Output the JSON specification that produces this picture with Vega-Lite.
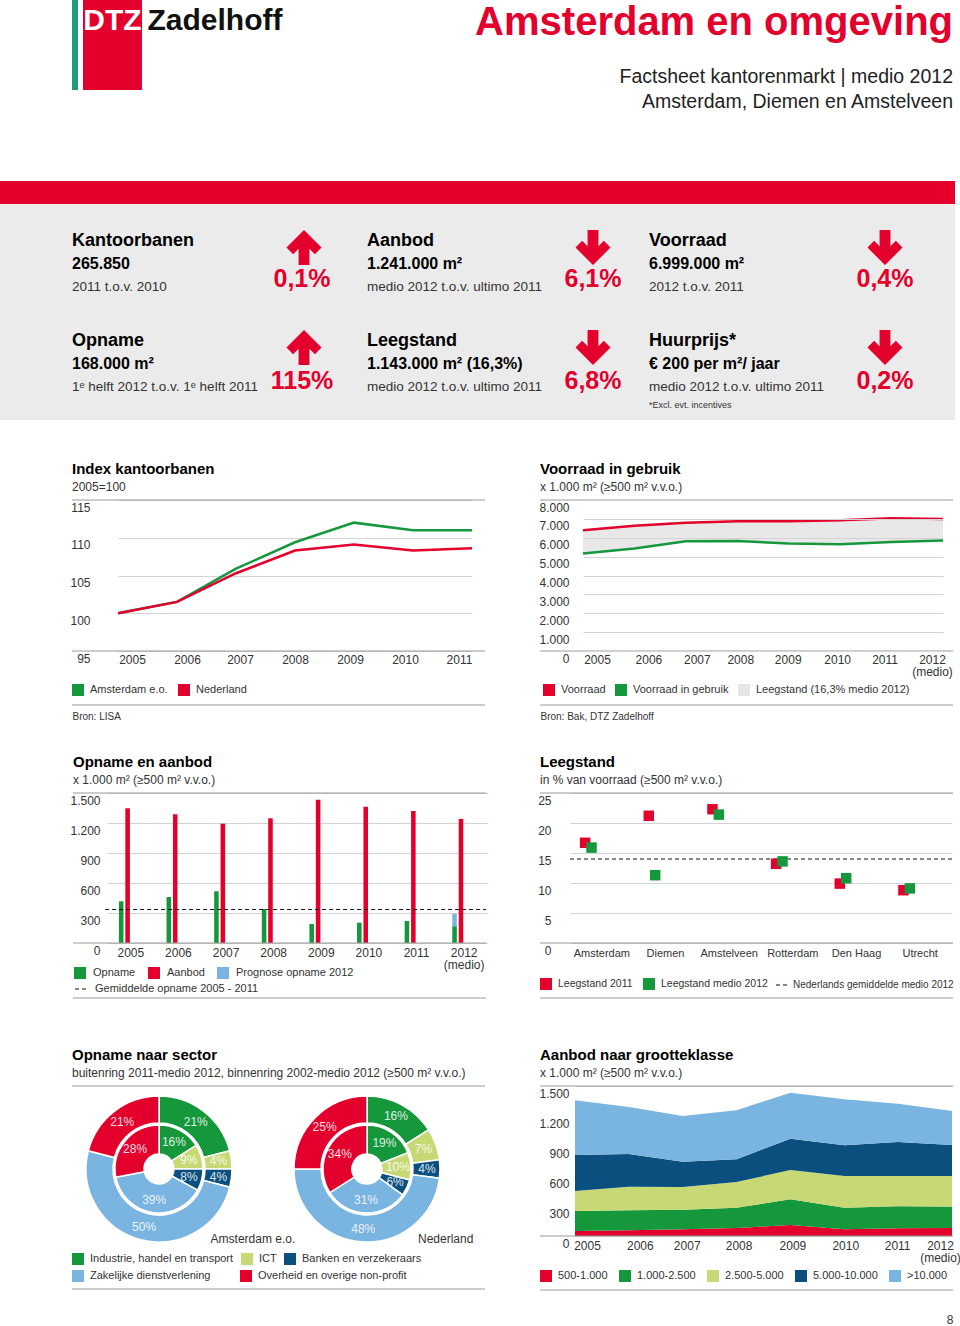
{
"$schema": "https://vega.github.io/schema/vega-lite/v6.json",
"padding": 0,
"background": "white",
"spacing": 0,
"resolve": {"scale": {"color": "independent", "fill": "independent", "strokeDash": "independent", "shape": "independent", "theta": "independent"}},
"config": {
  "font": "Liberation Sans",
  "view": {"stroke": null},
  "axis": {"domain": false, "ticks": false, "labelFont": "Liberation Sans", "labelFontSize": 12, "labelColor": "#333", "gridColor": "#d3d3d3", "gridWidth": 1},
  "legend": {"labelFont": "Liberation Sans", "labelFontSize": 11, "labelColor": "#333", "symbolStrokeWidth": 0, "symbolOpacity": 1, "labelLimit": 300},
  "title": {"anchor": "start", "frame": "group", "font": "Liberation Sans", "fontSize": 15, "fontWeight": "bold", "color": "#000", "subtitleFont": "Liberation Sans", "subtitleFontSize": 12, "subtitleColor": "#333", "subtitlePadding": 5, "offset": 7}
},
"datasets": {
  "kpi": [
    {"kolom": 0, "rij": 0, "titel": "Kantoorbanen", "waarde": "265.850", "omschrijving": "2011 t.o.v. 2010", "verandering": "0,1%", "richting": "op", "noot": ""},
    {"kolom": 1, "rij": 0, "titel": "Aanbod", "waarde": "1.241.000 m²", "omschrijving": "medio 2012 t.o.v. ultimo 2011", "verandering": "6,1%", "richting": "neer", "noot": ""},
    {"kolom": 2, "rij": 0, "titel": "Voorraad", "waarde": "6.999.000 m²", "omschrijving": "2012 t.o.v. 2011", "verandering": "0,4%", "richting": "neer", "noot": ""},
    {"kolom": 0, "rij": 1, "titel": "Opname", "waarde": "168.000 m²", "omschrijving": "1ᵉ helft 2012 t.o.v. 1ᵉ helft 2011", "verandering": "115%", "richting": "op", "noot": ""},
    {"kolom": 1, "rij": 1, "titel": "Leegstand", "waarde": "1.143.000 m² (16,3%)", "omschrijving": "medio 2012 t.o.v. ultimo 2011", "verandering": "6,8%", "richting": "neer", "noot": ""},
    {"kolom": 2, "rij": 1, "titel": "Huurprijs*", "waarde": "€ 200 per m²/ jaar", "omschrijving": "medio 2012 t.o.v. ultimo 2011", "verandering": "0,2%", "richting": "neer", "noot": "*Excl. evt. incentives"}
  ],
  "idx": [
    {"jaar": "2005", "reeks": "Amsterdam e.o.", "index": 100},
    {"jaar": "2006", "reeks": "Amsterdam e.o.", "index": 101.5},
    {"jaar": "2007", "reeks": "Amsterdam e.o.", "index": 105.9},
    {"jaar": "2008", "reeks": "Amsterdam e.o.", "index": 109.4},
    {"jaar": "2009", "reeks": "Amsterdam e.o.", "index": 112.0},
    {"jaar": "2010", "reeks": "Amsterdam e.o.", "index": 111.0},
    {"jaar": "2011", "reeks": "Amsterdam e.o.", "index": 111.0},
    {"jaar": "2005", "reeks": "Nederland", "index": 100},
    {"jaar": "2006", "reeks": "Nederland", "index": 101.5},
    {"jaar": "2007", "reeks": "Nederland", "index": 105.3},
    {"jaar": "2008", "reeks": "Nederland", "index": 108.3},
    {"jaar": "2009", "reeks": "Nederland", "index": 109.1},
    {"jaar": "2010", "reeks": "Nederland", "index": 108.3},
    {"jaar": "2011", "reeks": "Nederland", "index": 108.6}
  ],
  "voorraad": [
    {"jaar": "2005", "Voorraad": 6400, "Voorraad in gebruik": 5170},
    {"jaar": "2006", "Voorraad": 6630, "Voorraad in gebruik": 5430},
    {"jaar": "2007", "Voorraad": 6790, "Voorraad in gebruik": 5820},
    {"jaar": "2008", "Voorraad": 6880, "Voorraad in gebruik": 5830},
    {"jaar": "2009", "Voorraad": 6880, "Voorraad in gebruik": 5700},
    {"jaar": "2010", "Voorraad": 6930, "Voorraad in gebruik": 5650},
    {"jaar": "2011", "Voorraad": 7027, "Voorraad in gebruik": 5780},
    {"jaar": "2012", "Voorraad": 6999, "Voorraad in gebruik": 5856}
  ],
  "voorraadLegenda": [
    {"reeks": "Voorraad"},
    {"reeks": "Voorraad in gebruik"},
    {"reeks": "Leegstand (16,3% medio 2012)"}
  ],
  "opnameAanbod": [
    {"jaar": "2005", "type": "Opname", "groep": "Opname", "m2": 417},
    {"jaar": "2005", "type": "Aanbod", "groep": "Aanbod", "m2": 1347},
    {"jaar": "2006", "type": "Opname", "groep": "Opname", "m2": 460},
    {"jaar": "2006", "type": "Aanbod", "groep": "Aanbod", "m2": 1287},
    {"jaar": "2007", "type": "Opname", "groep": "Opname", "m2": 517},
    {"jaar": "2007", "type": "Aanbod", "groep": "Aanbod", "m2": 1193},
    {"jaar": "2008", "type": "Opname", "groep": "Opname", "m2": 340},
    {"jaar": "2008", "type": "Aanbod", "groep": "Aanbod", "m2": 1247},
    {"jaar": "2009", "type": "Opname", "groep": "Opname", "m2": 190},
    {"jaar": "2009", "type": "Aanbod", "groep": "Aanbod", "m2": 1433},
    {"jaar": "2010", "type": "Opname", "groep": "Opname", "m2": 203},
    {"jaar": "2010", "type": "Aanbod", "groep": "Aanbod", "m2": 1363},
    {"jaar": "2011", "type": "Opname", "groep": "Opname", "m2": 220},
    {"jaar": "2011", "type": "Aanbod", "groep": "Aanbod", "m2": 1320},
    {"jaar": "2012", "type": "Opname", "groep": "Opname", "m2": 168},
    {"jaar": "2012", "type": "Prognose opname 2012", "groep": "Opname", "m2": 125},
    {"jaar": "2012", "type": "Aanbod", "groep": "Aanbod", "m2": 1241}
  ],
  "leegstand": [
    {"stad": "Amsterdam", "reeks": "Leegstand 2011", "pct": 16.7},
    {"stad": "Amsterdam", "reeks": "Leegstand medio 2012", "pct": 15.9},
    {"stad": "Diemen", "reeks": "Leegstand 2011", "pct": 21.2},
    {"stad": "Diemen", "reeks": "Leegstand medio 2012", "pct": 11.3},
    {"stad": "Amstelveen", "reeks": "Leegstand 2011", "pct": 22.3},
    {"stad": "Amstelveen", "reeks": "Leegstand medio 2012", "pct": 21.4},
    {"stad": "Rotterdam", "reeks": "Leegstand 2011", "pct": 13.2},
    {"stad": "Rotterdam", "reeks": "Leegstand medio 2012", "pct": 13.6},
    {"stad": "Den Haag", "reeks": "Leegstand 2011", "pct": 9.9},
    {"stad": "Den Haag", "reeks": "Leegstand medio 2012", "pct": 10.8},
    {"stad": "Utrecht", "reeks": "Leegstand 2011", "pct": 8.8},
    {"stad": "Utrecht", "reeks": "Leegstand medio 2012", "pct": 9.1}
  ],
  "sector": [
    {"regio": "Amsterdam e.o.", "ring": "buiten", "sector": "Industrie, handel en transport", "aandeel": 0.21, "volgorde": 1},
    {"regio": "Amsterdam e.o.", "ring": "buiten", "sector": "ICT", "aandeel": 0.04, "volgorde": 2},
    {"regio": "Amsterdam e.o.", "ring": "buiten", "sector": "Banken en verzekeraars", "aandeel": 0.04, "volgorde": 3},
    {"regio": "Amsterdam e.o.", "ring": "buiten", "sector": "Zakelijke dienstverlening", "aandeel": 0.50, "volgorde": 4},
    {"regio": "Amsterdam e.o.", "ring": "buiten", "sector": "Overheid en overige non-profit", "aandeel": 0.21, "volgorde": 5},
    {"regio": "Amsterdam e.o.", "ring": "binnen", "sector": "Industrie, handel en transport", "aandeel": 0.16, "volgorde": 1},
    {"regio": "Amsterdam e.o.", "ring": "binnen", "sector": "ICT", "aandeel": 0.09, "volgorde": 2},
    {"regio": "Amsterdam e.o.", "ring": "binnen", "sector": "Banken en verzekeraars", "aandeel": 0.08, "volgorde": 3},
    {"regio": "Amsterdam e.o.", "ring": "binnen", "sector": "Zakelijke dienstverlening", "aandeel": 0.39, "volgorde": 4},
    {"regio": "Amsterdam e.o.", "ring": "binnen", "sector": "Overheid en overige non-profit", "aandeel": 0.28, "volgorde": 5},
    {"regio": "Nederland", "ring": "buiten", "sector": "Industrie, handel en transport", "aandeel": 0.16, "volgorde": 1},
    {"regio": "Nederland", "ring": "buiten", "sector": "ICT", "aandeel": 0.07, "volgorde": 2},
    {"regio": "Nederland", "ring": "buiten", "sector": "Banken en verzekeraars", "aandeel": 0.04, "volgorde": 3},
    {"regio": "Nederland", "ring": "buiten", "sector": "Zakelijke dienstverlening", "aandeel": 0.48, "volgorde": 4},
    {"regio": "Nederland", "ring": "buiten", "sector": "Overheid en overige non-profit", "aandeel": 0.25, "volgorde": 5},
    {"regio": "Nederland", "ring": "binnen", "sector": "Industrie, handel en transport", "aandeel": 0.19, "volgorde": 1},
    {"regio": "Nederland", "ring": "binnen", "sector": "ICT", "aandeel": 0.10, "volgorde": 2},
    {"regio": "Nederland", "ring": "binnen", "sector": "Banken en verzekeraars", "aandeel": 0.06, "volgorde": 3},
    {"regio": "Nederland", "ring": "binnen", "sector": "Zakelijke dienstverlening", "aandeel": 0.31, "volgorde": 4},
    {"regio": "Nederland", "ring": "binnen", "sector": "Overheid en overige non-profit", "aandeel": 0.34, "volgorde": 5}
  ],
  "grootte": [
    {"jaar": "2005", "klasse": "500-1.000", "volgorde": 1, "m2": 50},
    {"jaar": "2005", "klasse": "1.000-2.500", "volgorde": 2, "m2": 200},
    {"jaar": "2005", "klasse": "2.500-5.000", "volgorde": 3, "m2": 200},
    {"jaar": "2005", "klasse": "5.000-10.000", "volgorde": 4, "m2": 360},
    {"jaar": "2005", "klasse": ">10.000", "volgorde": 5, "m2": 547},
    {"jaar": "2006", "klasse": "500-1.000", "volgorde": 1, "m2": 57},
    {"jaar": "2006", "klasse": "1.000-2.500", "volgorde": 2, "m2": 200},
    {"jaar": "2006", "klasse": "2.500-5.000", "volgorde": 3, "m2": 236},
    {"jaar": "2006", "klasse": "5.000-10.000", "volgorde": 4, "m2": 327},
    {"jaar": "2006", "klasse": ">10.000", "volgorde": 5, "m2": 470},
    {"jaar": "2007", "klasse": "500-1.000", "volgorde": 1, "m2": 67},
    {"jaar": "2007", "klasse": "1.000-2.500", "volgorde": 2, "m2": 196},
    {"jaar": "2007", "klasse": "2.500-5.000", "volgorde": 3, "m2": 227},
    {"jaar": "2007", "klasse": "5.000-10.000", "volgorde": 4, "m2": 253},
    {"jaar": "2007", "klasse": ">10.000", "volgorde": 5, "m2": 457},
    {"jaar": "2008", "klasse": "500-1.000", "volgorde": 1, "m2": 80},
    {"jaar": "2008", "klasse": "1.000-2.500", "volgorde": 2, "m2": 203},
    {"jaar": "2008", "klasse": "2.500-5.000", "volgorde": 3, "m2": 257},
    {"jaar": "2008", "klasse": "5.000-10.000", "volgorde": 4, "m2": 227},
    {"jaar": "2008", "klasse": ">10.000", "volgorde": 5, "m2": 490},
    {"jaar": "2009", "klasse": "500-1.000", "volgorde": 1, "m2": 110},
    {"jaar": "2009", "klasse": "1.000-2.500", "volgorde": 2, "m2": 257},
    {"jaar": "2009", "klasse": "2.500-5.000", "volgorde": 3, "m2": 293},
    {"jaar": "2009", "klasse": "5.000-10.000", "volgorde": 4, "m2": 313},
    {"jaar": "2009", "klasse": ">10.000", "volgorde": 5, "m2": 460},
    {"jaar": "2010", "klasse": "500-1.000", "volgorde": 1, "m2": 67},
    {"jaar": "2010", "klasse": "1.000-2.500", "volgorde": 2, "m2": 216},
    {"jaar": "2010", "klasse": "2.500-5.000", "volgorde": 3, "m2": 317},
    {"jaar": "2010", "klasse": "5.000-10.000", "volgorde": 4, "m2": 307},
    {"jaar": "2010", "klasse": ">10.000", "volgorde": 5, "m2": 460},
    {"jaar": "2011", "klasse": "500-1.000", "volgorde": 1, "m2": 77},
    {"jaar": "2011", "klasse": "1.000-2.500", "volgorde": 2, "m2": 220},
    {"jaar": "2011", "klasse": "2.500-5.000", "volgorde": 3, "m2": 303},
    {"jaar": "2011", "klasse": "5.000-10.000", "volgorde": 4, "m2": 340},
    {"jaar": "2011", "klasse": ">10.000", "volgorde": 5, "m2": 383},
    {"jaar": "2012", "klasse": "500-1.000", "volgorde": 1, "m2": 80},
    {"jaar": "2012", "klasse": "1.000-2.500", "volgorde": 2, "m2": 213},
    {"jaar": "2012", "klasse": "2.500-5.000", "volgorde": 3, "m2": 307},
    {"jaar": "2012", "klasse": "5.000-10.000", "volgorde": 4, "m2": 310},
    {"jaar": "2012", "klasse": ">10.000", "volgorde": 5, "m2": 340}
  ]
},
"vconcat": [
  {
    "bounds": "flush", "spacing": 0,
    "hconcat": [
      {"width": 72, "height": 181, "view": {"fill": "white"}, "data": {"values": [{}]}, "mark": {"type": "text"}, "encoding": {"text": {"value": ""}}},
      {"width": 6, "height": 90, "view": {"fill": "#1f9a7d"}, "data": {"values": [{}]}, "mark": {"type": "text"}, "encoding": {"text": {"value": ""}}},
      {"width": 5, "height": 90, "data": {"values": [{}]}, "mark": {"type": "text"}, "encoding": {"text": {"value": ""}}},
      {"width": 59, "height": 90, "view": {"fill": "#e3002c"}, "data": {"values": [{"t": "DTZ"}]}, "mark": {"type": "text", "color": "white", "fontSize": 30, "fontWeight": "bold", "baseline": "middle", "dy": -24}, "encoding": {"text": {"field": "t"}}},
      {"width": 5, "height": 90, "data": {"values": [{}]}, "mark": {"type": "text"}, "encoding": {"text": {"value": ""}}},
      {"width": 136, "height": 90, "data": {"values": [{"t": "Zadelhoff"}]}, "mark": {"type": "text", "color": "#111", "fontSize": 30, "fontWeight": "bold", "baseline": "middle", "dy": -24}, "encoding": {"text": {"field": "t"}}},
      {
        "width": 670, "height": 181,
        "view": {"fill": "white"},
        "data": {"values": [
          {"regel": 0, "tekst": "Amsterdam en omgeving"},
          {"regel": 1, "tekst": "Factsheet kantorenmarkt | medio 2012"},
          {"regel": 2, "tekst": "Amsterdam, Diemen en Amstelveen"}
        ]},
        "encoding": {
          "x": {"value": "width"},
          "y": {"field": "regel", "type": "quantitative", "scale": {"domain": [0, 1, 2], "range": [35, 77, 102]}, "axis": null},
          "text": {"field": "tekst"}
        },
        "layer": [
          {"transform": [{"filter": "datum.regel == 0"}], "mark": {"type": "text", "align": "right", "baseline": "alphabetic", "fontSize": 40, "fontWeight": "bold", "color": "#e3002c"}},
          {"transform": [{"filter": "datum.regel > 0"}], "mark": {"type": "text", "align": "right", "baseline": "middle", "fontSize": 19.5, "color": "#222"}}
        ]
      }
    ]
  },
  {"width": 955, "height": 23, "view": {"fill": "#e3002c"}, "data": {"values": [{}]}, "mark": {"type": "text"}, "encoding": {"text": {"value": ""}}},
  {
    "width": 955, "height": 216,
    "view": {"fill": "#ebebeb"},
    "data": {"name": "kpi"},
    "resolve": {"scale": {"x": "independent", "y": "independent"}},
    "layer": [
      {"mark": {"type": "text", "align": "left", "baseline": "middle", "fontSize": 18, "fontWeight": "bold", "color": "#000"},
       "encoding": {"x": {"field": "kolom", "type": "quantitative", "scale": {"domain": [0, 1, 2], "range": [72, 367, 649]}, "axis": null}, "y": {"field": "rij", "type": "quantitative", "scale": {"domain": [0, 1], "range": [37, 137]}, "axis": null}, "text": {"field": "titel"}}},
      {"mark": {"type": "text", "align": "left", "baseline": "middle", "fontSize": 16, "fontWeight": "bold", "color": "#000", "dy": 23},
       "encoding": {"x": {"field": "kolom", "type": "quantitative", "scale": {"domain": [0, 1, 2], "range": [72, 367, 649]}, "axis": null}, "y": {"field": "rij", "type": "quantitative", "scale": {"domain": [0, 1], "range": [37, 137]}, "axis": null}, "text": {"field": "waarde"}}},
      {"mark": {"type": "text", "align": "left", "baseline": "middle", "fontSize": 13.5, "color": "#333", "dy": 46},
       "encoding": {"x": {"field": "kolom", "type": "quantitative", "scale": {"domain": [0, 1, 2], "range": [72, 367, 649]}, "axis": null}, "y": {"field": "rij", "type": "quantitative", "scale": {"domain": [0, 1], "range": [37, 137]}, "axis": null}, "text": {"field": "omschrijving"}}},
      {"mark": {"type": "text", "align": "left", "baseline": "middle", "fontSize": 9, "color": "#333", "dy": 64},
       "encoding": {"x": {"field": "kolom", "type": "quantitative", "scale": {"domain": [0, 1, 2], "range": [72, 367, 649]}, "axis": null}, "y": {"field": "rij", "type": "quantitative", "scale": {"domain": [0, 1], "range": [37, 137]}, "axis": null}, "text": {"field": "noot"}}},
      {"mark": {"type": "point", "filled": true, "size": 1225, "color": "#e3002c", "opacity": 1, "strokeWidth": 0},
       "encoding": {"x": {"field": "kolom", "type": "quantitative", "scale": {"domain": [0, 1, 2], "range": [304, 593, 885]}, "axis": null}, "y": {"field": "rij", "type": "quantitative", "scale": {"domain": [0, 1], "range": [43.5, 143.5]}, "axis": null},
         "shape": {"field": "richting", "type": "nominal", "scale": {"domain": ["op", "neer"], "range": ["M0,-1L1,0L0.62,0.38L0.31,0.07L0.31,1L-0.31,1L-0.31,0.07L-0.62,0.38L-1,0Z", "M0,1L1,0L0.62,-0.38L0.31,-0.07L0.31,-1L-0.31,-1L-0.31,-0.07L-0.62,-0.38L-1,0Z"]}, "legend": null}}},
      {"mark": {"type": "text", "align": "center", "baseline": "middle", "fontSize": 25, "fontWeight": "bold", "color": "#e3002c"},
       "encoding": {"x": {"field": "kolom", "type": "quantitative", "scale": {"domain": [0, 1, 2], "range": [302, 593, 885]}, "axis": null}, "y": {"field": "rij", "type": "quantitative", "scale": {"domain": [0, 1], "range": [75, 177]}, "axis": null}, "text": {"field": "verandering"}}}
    ]
  },
  {"width": 10, "height": 41, "view": {"fill": "white"}, "data": {"values": [{}]}, "mark": {"type": "text"}, "encoding": {"text": {"value": ""}}},
  {
    "bounds": "flush", "spacing": 0,
    "resolve": {"scale": {"color": "independent", "strokeDash": "independent"}},
    "hconcat": [
      {"width": 72, "height": 254, "view": {"fill": "white"}, "data": {"values": [{}]}, "mark": {"type": "text"}, "encoding": {"text": {"value": ""}}},
      {
        "width": 413, "height": 151,
        "title": {"text": "Index kantoorbanen", "subtitle": "2005=100"},
        "layer": [
          {"data": {"values": [{}]}, "mark": {"type": "rule", "color": "#9a9a9a"}, "encoding": {"y": {"datum": 115, "type": "quantitative", "scale": {"domain": [95, 115], "nice": false, "zero": false}, "axis": {"values": [95, 100, 105, 110, 115], "grid": true, "labelAlign": "right", "labelPadding": -18, "labelBaseline": "top", "labelOffset": 2, "title": null}}}},
          {"data": {"values": [{}]}, "mark": {"type": "rule", "color": "#9a9a9a"}, "encoding": {"y": {"datum": 95, "type": "quantitative", "scale": {"domain": [95, 115], "nice": false, "zero": false}, "axis": {"values": [95, 100, 105, 110, 115], "grid": true, "labelAlign": "right", "labelPadding": -18, "labelBaseline": "top", "labelOffset": 2, "title": null}}}},
          {"data": {"values": [{}]}, "mark": {"type": "rule", "color": "#9a9a9a"}, "encoding": {"y": {"datum": 87.85, "type": "quantitative", "scale": {"domain": [95, 115], "nice": false, "zero": false}, "axis": {"values": [95, 100, 105, 110, 115], "grid": true, "labelAlign": "right", "labelPadding": -18, "labelBaseline": "top", "labelOffset": 2, "title": null}}}},
          {"data": {"name": "idx"}, "transform": [{"filter": "datum.reeks == 'Amsterdam e.o.'"}], "mark": {"type": "line", "strokeWidth": 2.5, "color": "#15973c"},
           "encoding": {
             "x": {"field": "jaar", "type": "ordinal", "scale": {"type": "point", "range": [46, 400], "padding": 0},
                   "axis": {"labelAngle": 0, "labelPadding": 3, "labelBaseline": "top",
                            "labelOffset": {"condition": [{"test": "datum.value == '2005'", "value": 14}, {"test": "datum.value == '2006'", "value": 10}, {"test": "datum.value == '2007'", "value": 4}, {"test": "datum.value == '2009'", "value": -4}, {"test": "datum.value == '2010'", "value": -8}, {"test": "datum.value == '2011'", "value": -13}], "value": 0},
                            "title": "Bron: LISA", "titleX": 0, "titleY": 65, "titleAlign": "left", "titleAnchor": "start", "titleBaseline": "middle", "titleFontSize": 10, "titleFontWeight": "normal", "titleColor": "#333"}},
             "y": {"field": "index", "type": "quantitative", "scale": {"domain": [95, 115], "nice": false, "zero": false},
                   "axis": {"values": [95, 100, 105, 110, 115], "grid": true, "labelAlign": "right", "labelPadding": -18, "labelBaseline": "top", "labelOffset": 2, "title": null}}
           }},
          {"data": {"name": "idx"}, "transform": [{"filter": "datum.reeks == 'Nederland'"}], "mark": {"type": "line", "strokeWidth": 2.5, "color": "#e3002c"},
           "encoding": {
             "x": {"field": "jaar", "type": "ordinal", "scale": {"type": "point", "range": [46, 400], "padding": 0},
                   "axis": {"labelAngle": 0, "labelPadding": 3, "labelBaseline": "top",
                            "labelOffset": {"condition": [{"test": "datum.value == '2005'", "value": 14}, {"test": "datum.value == '2006'", "value": 10}, {"test": "datum.value == '2007'", "value": 4}, {"test": "datum.value == '2009'", "value": -4}, {"test": "datum.value == '2010'", "value": -8}, {"test": "datum.value == '2011'", "value": -13}], "value": 0},
                            "title": "Bron: LISA", "titleX": 0, "titleY": 65, "titleAlign": "left", "titleAnchor": "start", "titleBaseline": "middle", "titleFontSize": 10, "titleFontWeight": "normal", "titleColor": "#333"}},
             "y": {"field": "index", "type": "quantitative", "scale": {"domain": [95, 115], "nice": false, "zero": false},
                   "axis": {"values": [95, 100, 105, 110, 115], "grid": true, "labelAlign": "right", "labelPadding": -18, "labelBaseline": "top", "labelOffset": 2, "title": null}}
           }},
          {"data": {"name": "idx"}, "mark": {"type": "square", "opacity": 0},
           "encoding": {
             "x": {"field": "jaar", "type": "ordinal", "scale": {"type": "point", "range": [46, 400], "padding": 0},
                   "axis": {"labelAngle": 0, "labelPadding": 3, "labelBaseline": "top",
                            "labelOffset": {"condition": [{"test": "datum.value == '2005'", "value": 14}, {"test": "datum.value == '2006'", "value": 10}, {"test": "datum.value == '2007'", "value": 4}, {"test": "datum.value == '2009'", "value": -4}, {"test": "datum.value == '2010'", "value": -8}, {"test": "datum.value == '2011'", "value": -13}], "value": 0},
                            "title": "Bron: LISA", "titleX": 0, "titleY": 65, "titleAlign": "left", "titleAnchor": "start", "titleBaseline": "middle", "titleFontSize": 10, "titleFontWeight": "normal", "titleColor": "#333"}},
             "y": {"field": "index", "type": "quantitative", "scale": {"domain": [95, 115], "nice": false, "zero": false},
                   "axis": {"values": [95, 100, 105, 110, 115], "grid": true, "labelAlign": "right", "labelPadding": -18, "labelBaseline": "top", "labelOffset": 2, "title": null}},
             "color": {"field": "reeks", "type": "nominal", "scale": {"domain": ["Amsterdam e.o.", "Nederland"], "range": ["#15973c", "#e3002c"]},
                       "legend": {"orient": "none", "legendX": 0, "legendY": 184, "direction": "horizontal", "title": null, "symbolType": "square", "symbolSize": 144, "symbolOpacity": 1, "labelOffset": 6, "columnPadding": 10}}
           }}
        ]
      },
      {"width": 55, "height": 151, "data": {"values": [{}]}, "mark": {"type": "text"}, "encoding": {"text": {"value": ""}}},
      {
        "width": 413, "height": 151,
        "title": {"text": "Voorraad in gebruik", "subtitle": "x 1.000 m² (≥500 m² v.v.o.)"},
        "layer": [
          {"data": {"name": "voorraad"}, "mark": {"type": "area", "color": "#e8e8e8", "opacity": 1},
           "encoding": {
             "x": {"field": "jaar", "type": "ordinal", "scale": {"type": "point", "range": [43, 403], "padding": 0},
                   "axis": {"labelAngle": 0, "labelPadding": 3, "labelBaseline": "top", "labelLineHeight": 12,
                            "labelExpr": "datum.value == '2012' ? ['2012', '(medio)'] : datum.label",
                            "labelOffset": {"condition": [{"test": "datum.value == '2005'", "value": 14}, {"test": "datum.value == '2006'", "value": 14}, {"test": "datum.value == '2007'", "value": 11}, {"test": "datum.value == '2008'", "value": 3}, {"test": "datum.value == '2009'", "value": -1}, {"test": "datum.value == '2010'", "value": -3}, {"test": "datum.value == '2011'", "value": -7}, {"test": "datum.value == '2012'", "value": -11}], "value": 0},
                            "title": "Bron: Bak, DTZ Zadelhoff", "titleX": 0, "titleY": 65, "titleAlign": "left", "titleAnchor": "start", "titleBaseline": "middle", "titleFontSize": 10, "titleFontWeight": "normal", "titleColor": "#333"}},
             "y": {"field": "Voorraad", "type": "quantitative", "scale": {"domain": [0, 8000], "nice": false},
                   "axis": {"values": [0, 1000, 2000, 3000, 4000, 5000, 6000, 7000, 8000], "grid": true, "zindex": 1, "labelAlign": "right", "labelPadding": -29, "labelBaseline": "top", "labelOffset": 2, "labelExpr": "replace(format(datum.value, ','), ',', '.')", "title": null}},
             "y2": {"field": "Voorraad in gebruik"}
           }},
          {"data": {"values": [{}]}, "mark": {"type": "rule", "color": "#9a9a9a"}, "encoding": {"y": {"datum": 8000, "type": "quantitative", "scale": {"domain": [0, 8000], "nice": false}, "axis": {"values": [0, 1000, 2000, 3000, 4000, 5000, 6000, 7000, 8000], "grid": true, "zindex": 1, "labelAlign": "right", "labelPadding": -29, "labelBaseline": "top", "labelOffset": 2, "labelExpr": "replace(format(datum.value, ','), ',', '.')", "title": null}}}},
          {"data": {"values": [{}]}, "mark": {"type": "rule", "color": "#9a9a9a"}, "encoding": {"y": {"datum": 0, "type": "quantitative", "scale": {"domain": [0, 8000], "nice": false}, "axis": {"values": [0, 1000, 2000, 3000, 4000, 5000, 6000, 7000, 8000], "grid": true, "zindex": 1, "labelAlign": "right", "labelPadding": -29, "labelBaseline": "top", "labelOffset": 2, "labelExpr": "replace(format(datum.value, ','), ',', '.')", "title": null}}}},
          {"data": {"values": [{}]}, "mark": {"type": "rule", "color": "#9a9a9a"}, "encoding": {"y": {"datum": -2861, "type": "quantitative", "scale": {"domain": [0, 8000], "nice": false}, "axis": {"values": [0, 1000, 2000, 3000, 4000, 5000, 6000, 7000, 8000], "grid": true, "zindex": 1, "labelAlign": "right", "labelPadding": -29, "labelBaseline": "top", "labelOffset": 2, "labelExpr": "replace(format(datum.value, ','), ',', '.')", "title": null}}}},
          {"data": {"name": "voorraad"}, "mark": {"type": "line", "strokeWidth": 2.5, "color": "#e3002c"},
           "encoding": {
             "x": {"field": "jaar", "type": "ordinal", "scale": {"type": "point", "range": [43, 403], "padding": 0},
                   "axis": {"labelAngle": 0, "labelPadding": 3, "labelBaseline": "top", "labelLineHeight": 12,
                            "labelExpr": "datum.value == '2012' ? ['2012', '(medio)'] : datum.label",
                            "labelOffset": {"condition": [{"test": "datum.value == '2005'", "value": 14}, {"test": "datum.value == '2006'", "value": 14}, {"test": "datum.value == '2007'", "value": 11}, {"test": "datum.value == '2008'", "value": 3}, {"test": "datum.value == '2009'", "value": -1}, {"test": "datum.value == '2010'", "value": -3}, {"test": "datum.value == '2011'", "value": -7}, {"test": "datum.value == '2012'", "value": -11}], "value": 0},
                            "title": "Bron: Bak, DTZ Zadelhoff", "titleX": 0, "titleY": 65, "titleAlign": "left", "titleAnchor": "start", "titleBaseline": "middle", "titleFontSize": 10, "titleFontWeight": "normal", "titleColor": "#333"}},
             "y": {"field": "Voorraad", "type": "quantitative", "scale": {"domain": [0, 8000], "nice": false},
                   "axis": {"values": [0, 1000, 2000, 3000, 4000, 5000, 6000, 7000, 8000], "grid": true, "zindex": 1, "labelAlign": "right", "labelPadding": -29, "labelBaseline": "top", "labelOffset": 2, "labelExpr": "replace(format(datum.value, ','), ',', '.')", "title": null}}
           }},
          {"data": {"name": "voorraad"}, "mark": {"type": "line", "strokeWidth": 2.5, "color": "#15973c"},
           "encoding": {
             "x": {"field": "jaar", "type": "ordinal", "scale": {"type": "point", "range": [43, 403], "padding": 0},
                   "axis": {"labelAngle": 0, "labelPadding": 3, "labelBaseline": "top", "labelLineHeight": 12,
                            "labelExpr": "datum.value == '2012' ? ['2012', '(medio)'] : datum.label",
                            "labelOffset": {"condition": [{"test": "datum.value == '2005'", "value": 14}, {"test": "datum.value == '2006'", "value": 14}, {"test": "datum.value == '2007'", "value": 11}, {"test": "datum.value == '2008'", "value": 3}, {"test": "datum.value == '2009'", "value": -1}, {"test": "datum.value == '2010'", "value": -3}, {"test": "datum.value == '2011'", "value": -7}, {"test": "datum.value == '2012'", "value": -11}], "value": 0},
                            "title": "Bron: Bak, DTZ Zadelhoff", "titleX": 0, "titleY": 65, "titleAlign": "left", "titleAnchor": "start", "titleBaseline": "middle", "titleFontSize": 10, "titleFontWeight": "normal", "titleColor": "#333"}},
             "y": {"field": "Voorraad in gebruik", "type": "quantitative", "scale": {"domain": [0, 8000], "nice": false},
                   "axis": {"values": [0, 1000, 2000, 3000, 4000, 5000, 6000, 7000, 8000], "grid": true, "zindex": 1, "labelAlign": "right", "labelPadding": -29, "labelBaseline": "top", "labelOffset": 2, "labelExpr": "replace(format(datum.value, ','), ',', '.')", "title": null}}
           }},
          {"data": {"name": "voorraadLegenda"}, "mark": {"type": "square", "opacity": 0},
           "encoding": {
             "color": {"field": "reeks", "type": "nominal", "scale": {"domain": ["Voorraad", "Voorraad in gebruik", "Leegstand (16,3% medio 2012)"], "range": ["#e3002c", "#15973c", "#e6e6e6"]},
                       "legend": {"orient": "none", "legendX": 3, "legendY": 184, "direction": "horizontal", "title": null, "symbolType": "square", "symbolSize": 144, "symbolOpacity": 1, "labelOffset": 6, "columnPadding": 9}}
           }}
        ]
      }
    ]
  },
  {
    "bounds": "flush", "spacing": 0,
    "resolve": {"scale": {"color": "independent", "strokeDash": "independent"}},
    "hconcat": [
      {"width": 73, "height": 254, "view": {"fill": "white"}, "data": {"values": [{}]}, "mark": {"type": "text"}, "encoding": {"text": {"value": ""}}},
      {
        "width": 413, "height": 150,
        "title": {"text": "Opname en aanbod", "subtitle": "x 1.000 m² (≥500 m² v.v.o.)"},
        "layer": [
          {"data": {"values": [{}]}, "mark": {"type": "rule", "color": "#9a9a9a"}, "encoding": {"y": {"datum": 1500, "type": "quantitative", "scale": {"domain": [0, 1500], "nice": false}, "axis": {"values": [0, 300, 600, 900, 1200, 1500], "grid": true, "labelAlign": "right", "labelPadding": -27, "labelBaseline": "top", "labelOffset": 2, "labelExpr": "replace(format(datum.value, ','), ',', '.')", "title": null}}}},
          {"data": {"values": [{}]}, "mark": {"type": "rule", "color": "#9a9a9a"}, "encoding": {"y": {"datum": -550, "type": "quantitative", "scale": {"domain": [0, 1500], "nice": false}, "axis": {"values": [0, 300, 600, 900, 1200, 1500], "grid": true, "labelAlign": "right", "labelPadding": -27, "labelBaseline": "top", "labelOffset": 2, "labelExpr": "replace(format(datum.value, ','), ',', '.')", "title": null}}}},
          {"data": {"name": "opnameAanbod"}, "mark": {"type": "bar"},
           "encoding": {
             "x": {"field": "jaar", "type": "ordinal", "scale": {"type": "band", "range": [34, 415], "paddingInner": 0.5, "paddingOuter": 0.25},
                   "axis": {"labelAngle": 0, "labelPadding": 4, "labelBaseline": "top", "labelLineHeight": 12, "labelExpr": "datum.value == '2012' ? ['2012', '(medio)'] : datum.label", "title": null}},
             "xOffset": {"field": "groep", "type": "nominal", "scale": {"domain": ["Opname", "Aanbod"], "paddingInner": 0.29, "paddingOuter": 0}},
             "y": {"field": "m2", "type": "quantitative", "stack": "zero", "scale": {"domain": [0, 1500], "nice": false},
                   "axis": {"values": [0, 300, 600, 900, 1200, 1500], "grid": true, "labelAlign": "right", "labelPadding": -27, "labelBaseline": "top", "labelOffset": 2, "labelExpr": "replace(format(datum.value, ','), ',', '.')", "title": null}},
             "color": {"field": "type", "type": "nominal", "scale": {"domain": ["Opname", "Aanbod", "Prognose opname 2012"], "range": ["#15973c", "#e3002c", "#7ab4e0"]},
                       "legend": {"orient": "none", "legendX": 1, "legendY": 174, "direction": "horizontal", "title": null, "symbolType": "square", "symbolSize": 144, "symbolOpacity": 1, "labelOffset": 7, "columnPadding": 12}},
             "order": {"field": "type", "type": "ordinal", "sort": "ascending"}
           }},
          {"data": {"values": [{}]}, "mark": {"type": "rule", "color": "#9a9a9a"}, "encoding": {"y": {"datum": 0, "type": "quantitative", "scale": {"domain": [0, 1500], "nice": false}, "axis": {"values": [0, 300, 600, 900, 1200, 1500], "grid": true, "labelAlign": "right", "labelPadding": -27, "labelBaseline": "top", "labelOffset": 2, "labelExpr": "replace(format(datum.value, ','), ',', '.')", "title": null}}}},
          {"data": {"values": [{"gemiddelde": 335, "omschrijving": "Gemiddelde opname 2005 - 2011"}]}, "mark": {"type": "rule", "color": "#111", "strokeWidth": 1},
           "encoding": {
             "y": {"field": "gemiddelde", "type": "quantitative", "scale": {"domain": [0, 1500], "nice": false}, "axis": {"values": [0, 300, 600, 900, 1200, 1500], "grid": true, "labelAlign": "right", "labelPadding": -27, "labelBaseline": "top", "labelOffset": 2, "labelExpr": "replace(format(datum.value, ','), ',', '.')", "title": null}},
             "x": {"datum": "2005", "type": "ordinal", "bandPosition": -0.58, "scale": {"type": "band", "range": [34, 415], "paddingInner": 0.5, "paddingOuter": 0.25},
                   "axis": {"labelAngle": 0, "labelPadding": 4, "labelBaseline": "top", "labelLineHeight": 12, "labelExpr": "datum.value == '2012' ? ['2012', '(medio)'] : datum.label", "title": null}},
             "x2": {"value": "width"},
             "strokeDash": {"field": "omschrijving", "type": "nominal", "scale": {"range": [[4, 3]]},
                            "legend": {"orient": "none", "legendX": 1, "legendY": 189, "title": null, "symbolType": "stroke", "symbolSize": 144, "symbolStrokeWidth": 1.2, "symbolStrokeColor": "#111", "labelOffset": 7}}
           }}
        ]
      },
      {"width": 54, "height": 150, "data": {"values": [{}]}, "mark": {"type": "text"}, "encoding": {"text": {"value": ""}}},
      {
        "width": 413, "height": 150,
        "title": {"text": "Leegstand", "subtitle": "in % van voorraad (≥500 m² v.v.o.)"},
        "layer": [
          {"data": {"values": [{}]}, "mark": {"type": "rule", "color": "#9a9a9a"}, "encoding": {"y": {"datum": 25, "type": "quantitative", "scale": {"domain": [0, 25], "nice": false}, "axis": {"values": [0, 5, 10, 15, 20, 25], "grid": true, "labelAlign": "right", "labelPadding": -11, "labelBaseline": "top", "labelOffset": 2, "title": null}}}},
          {"data": {"values": [{}]}, "mark": {"type": "rule", "color": "#9a9a9a"}, "encoding": {"y": {"datum": 0, "type": "quantitative", "scale": {"domain": [0, 25], "nice": false}, "axis": {"values": [0, 5, 10, 15, 20, 25], "grid": true, "labelAlign": "right", "labelPadding": -11, "labelBaseline": "top", "labelOffset": 2, "title": null}}}},
          {"data": {"values": [{}]}, "mark": {"type": "rule", "color": "#9a9a9a"}, "encoding": {"y": {"datum": -9.17, "type": "quantitative", "scale": {"domain": [0, 25], "nice": false}, "axis": {"values": [0, 5, 10, 15, 20, 25], "grid": true, "labelAlign": "right", "labelPadding": -11, "labelBaseline": "top", "labelOffset": 2, "title": null}}}},
          {"data": {"values": [{"gemiddelde": 14.0, "omschrijving": "Nederlands gemiddelde medio 2012"}]}, "mark": {"type": "rule", "color": "#111", "strokeWidth": 1},
           "encoding": {
             "y": {"field": "gemiddelde", "type": "quantitative", "scale": {"domain": [0, 25], "nice": false}, "axis": {"values": [0, 5, 10, 15, 20, 25], "grid": true, "labelAlign": "right", "labelPadding": -11, "labelBaseline": "top", "labelOffset": 2, "title": null}},
             "x": {"datum": "Amsterdam", "type": "nominal", "bandPosition": 0, "scale": {"type": "band", "domain": ["Amsterdam", "Diemen", "Amstelveen", "Rotterdam", "Den Haag", "Utrecht"], "range": [30, 412], "paddingInner": 0, "paddingOuter": 0},
                   "axis": {"labelAngle": 0, "labelPadding": 4, "labelBaseline": "top", "labelFontSize": 11, "title": null}},
             "x2": {"value": "width"},
             "strokeDash": {"field": "omschrijving", "type": "nominal", "scale": {"range": [[4, 3]]},
                            "legend": {"orient": "none", "legendX": 235, "legendY": 185, "title": null, "symbolType": "stroke", "symbolSize": 144, "symbolStrokeWidth": 1.2, "symbolStrokeColor": "#111", "labelOffset": 4, "labelFontSize": 10}}
           }},
          {"data": {"name": "leegstand"}, "mark": {"type": "square", "size": 110, "opacity": 1, "filled": true},
           "encoding": {
             "x": {"field": "stad", "type": "nominal", "sort": null, "scale": {"type": "band", "domain": ["Amsterdam", "Diemen", "Amstelveen", "Rotterdam", "Den Haag", "Utrecht"], "range": [30, 412], "paddingInner": 0, "paddingOuter": 0},
                   "axis": {"labelAngle": 0, "labelPadding": 4, "labelBaseline": "top", "labelFontSize": 11, "title": null}},
             "xOffset": {"field": "reeks", "type": "nominal", "scale": {"domain": ["Leegstand 2011", "Leegstand medio 2012"], "paddingInner": 0, "paddingOuter": 1.45}},
             "y": {"field": "pct", "type": "quantitative", "scale": {"domain": [0, 25], "nice": false},
                   "axis": {"values": [0, 5, 10, 15, 20, 25], "grid": true, "labelAlign": "right", "labelPadding": -11, "labelBaseline": "top", "labelOffset": 2, "title": null}},
             "color": {"field": "reeks", "type": "nominal", "scale": {"domain": ["Leegstand 2011", "Leegstand medio 2012"], "range": ["#e3002c", "#15973c"]},
                       "legend": {"orient": "none", "legendX": 0, "legendY": 185, "direction": "horizontal", "title": null, "symbolType": "square", "symbolSize": 144, "symbolOpacity": 1, "labelOffset": 6, "columnPadding": 10, "labelFontSize": 10.5}}
           }}
        ]
      }
    ]
  },
  {
    "bounds": "flush", "spacing": 0,
    "resolve": {"scale": {"color": "independent", "fill": "independent", "theta": "independent"}},
    "hconcat": [
      {"width": 72, "height": 228, "view": {"fill": "white"}, "data": {"values": [{}]}, "mark": {"type": "text"}, "encoding": {"text": {"value": ""}}},
      {
        "width": 413, "height": 166,
        "title": {"text": "Opname naar sector", "subtitle": "buitenring 2011-medio 2012, binnenring 2002-medio 2012 (≥500 m² v.v.o.)"},
        "layer": [
          {"data": {"values": [{}]}, "mark": {"type": "rule", "color": "#9a9a9a"}, "encoding": {"y": {"value": 0}}},
          {"data": {"values": [{}]}, "mark": {"type": "rule", "color": "#9a9a9a"}, "encoding": {"y": {"value": 203}}},
          {"data": {"name": "sector"}, "transform": [{"filter": "datum.regio == 'Amsterdam e.o.' && datum.ring == 'buiten'"}],
           "mark": {"type": "arc", "outerRadius": 73, "innerRadius": 46, "stroke": "white", "strokeWidth": 1.5},
           "encoding": {"x": {"field": "regio", "type": "nominal", "scale": {"type": "band", "domain": ["Amsterdam e.o.", "Nederland"], "range": [-17, 399], "paddingInner": 0, "paddingOuter": 0}, "axis": null},
             "theta": {"field": "aandeel", "type": "quantitative", "stack": true}, "order": {"field": "volgorde", "type": "ordinal"},
             "color": {"field": "sector", "type": "nominal", "scale": {"domain": ["Industrie, handel en transport", "ICT", "Banken en verzekeraars", "Zakelijke dienstverlening", "Overheid en overige non-profit"], "range": ["#15973c", "#c6d974", "#0b4f7e", "#7ab4e0", "#e3002c"]},
               "legend": {"orient": "none", "legendX": 0, "legendY": 167, "direction": "horizontal", "title": null, "values": ["Industrie, handel en transport", "ICT", "Banken en verzekeraars"], "symbolType": "square", "symbolSize": 144, "symbolStrokeWidth": 0, "symbolOpacity": 1, "labelOffset": 6, "columnPadding": 7}}}},
          {"data": {"name": "sector"}, "transform": [{"filter": "datum.regio == 'Nederland' && datum.ring == 'buiten'"}],
           "mark": {"type": "arc", "outerRadius": 73, "innerRadius": 46, "stroke": "white", "strokeWidth": 1.5},
           "encoding": {"x": {"field": "regio", "type": "nominal", "scale": {"type": "band", "domain": ["Amsterdam e.o.", "Nederland"], "range": [-17, 399], "paddingInner": 0, "paddingOuter": 0}, "axis": null},
             "theta": {"field": "aandeel", "type": "quantitative", "stack": true}, "order": {"field": "volgorde", "type": "ordinal"},
             "color": {"field": "sector", "type": "nominal", "scale": {"domain": ["Industrie, handel en transport", "ICT", "Banken en verzekeraars", "Zakelijke dienstverlening", "Overheid en overige non-profit"], "range": ["#15973c", "#c6d974", "#0b4f7e", "#7ab4e0", "#e3002c"]},
               "legend": {"orient": "none", "legendX": 0, "legendY": 167, "direction": "horizontal", "title": null, "values": ["Industrie, handel en transport", "ICT", "Banken en verzekeraars"], "symbolType": "square", "symbolSize": 144, "symbolStrokeWidth": 0, "symbolOpacity": 1, "labelOffset": 6, "columnPadding": 7}}}},
          {"data": {"name": "sector"}, "transform": [{"filter": "datum.regio == 'Amsterdam e.o.' && datum.ring == 'binnen'"}],
           "mark": {"type": "arc", "outerRadius": 44, "innerRadius": 15, "stroke": "white", "strokeWidth": 1.5},
           "encoding": {"x": {"field": "regio", "type": "nominal", "scale": {"type": "band", "domain": ["Amsterdam e.o.", "Nederland"], "range": [-17, 399], "paddingInner": 0, "paddingOuter": 0}, "axis": null},
             "theta": {"field": "aandeel", "type": "quantitative", "stack": true}, "order": {"field": "volgorde", "type": "ordinal"},
             "fill": {"field": "sector", "type": "nominal", "scale": {"domain": ["Zakelijke dienstverlening", "Overheid en overige non-profit", "Industrie, handel en transport", "ICT", "Banken en verzekeraars"], "range": ["#7ab4e0", "#e3002c", "#15973c", "#c6d974", "#0b4f7e"]},
               "legend": {"orient": "none", "legendX": 0, "legendY": 184, "direction": "horizontal", "title": null, "values": ["Zakelijke dienstverlening", "Overheid en overige non-profit"], "symbolType": "square", "symbolSize": 144, "symbolStrokeWidth": 0, "symbolOpacity": 1, "labelOffset": 6, "columnPadding": 29}}}},
          {"data": {"name": "sector"}, "transform": [{"filter": "datum.regio == 'Nederland' && datum.ring == 'binnen'"}],
           "mark": {"type": "arc", "outerRadius": 44, "innerRadius": 15, "stroke": "white", "strokeWidth": 1.5},
           "encoding": {"x": {"field": "regio", "type": "nominal", "scale": {"type": "band", "domain": ["Amsterdam e.o.", "Nederland"], "range": [-17, 399], "paddingInner": 0, "paddingOuter": 0}, "axis": null},
             "theta": {"field": "aandeel", "type": "quantitative", "stack": true}, "order": {"field": "volgorde", "type": "ordinal"},
             "fill": {"field": "sector", "type": "nominal", "scale": {"domain": ["Zakelijke dienstverlening", "Overheid en overige non-profit", "Industrie, handel en transport", "ICT", "Banken en verzekeraars"], "range": ["#7ab4e0", "#e3002c", "#15973c", "#c6d974", "#0b4f7e"]},
               "legend": {"orient": "none", "legendX": 0, "legendY": 184, "direction": "horizontal", "title": null, "values": ["Zakelijke dienstverlening", "Overheid en overige non-profit"], "symbolType": "square", "symbolSize": 144, "symbolStrokeWidth": 0, "symbolOpacity": 1, "labelOffset": 6, "columnPadding": 29}}}},
          {"data": {"name": "sector"}, "transform": [{"filter": "datum.regio == 'Amsterdam e.o.' && datum.ring == 'buiten'"}],
           "mark": {"type": "text", "radius": 60, "fill": "white", "opacity": 0.85, "fontSize": 12},
           "encoding": {"x": {"field": "regio", "type": "nominal", "scale": {"type": "band", "domain": ["Amsterdam e.o.", "Nederland"], "range": [-17, 399], "paddingInner": 0, "paddingOuter": 0}, "axis": null},
             "theta": {"field": "aandeel", "type": "quantitative", "stack": true}, "order": {"field": "volgorde", "type": "ordinal"}, "text": {"field": "aandeel", "type": "quantitative", "format": ".0%"}}},
          {"data": {"name": "sector"}, "transform": [{"filter": "datum.regio == 'Nederland' && datum.ring == 'buiten'"}],
           "mark": {"type": "text", "radius": 60, "fill": "white", "opacity": 0.85, "fontSize": 12},
           "encoding": {"x": {"field": "regio", "type": "nominal", "scale": {"type": "band", "domain": ["Amsterdam e.o.", "Nederland"], "range": [-17, 399], "paddingInner": 0, "paddingOuter": 0}, "axis": null},
             "theta": {"field": "aandeel", "type": "quantitative", "stack": true}, "order": {"field": "volgorde", "type": "ordinal"}, "text": {"field": "aandeel", "type": "quantitative", "format": ".0%"}}},
          {"data": {"name": "sector"}, "transform": [{"filter": "datum.regio == 'Amsterdam e.o.' && datum.ring == 'binnen'"}],
           "mark": {"type": "text", "radius": 31, "fill": "white", "opacity": 0.85, "fontSize": 12},
           "encoding": {"x": {"field": "regio", "type": "nominal", "scale": {"type": "band", "domain": ["Amsterdam e.o.", "Nederland"], "range": [-17, 399], "paddingInner": 0, "paddingOuter": 0}, "axis": null},
             "theta": {"field": "aandeel", "type": "quantitative", "stack": true}, "order": {"field": "volgorde", "type": "ordinal"}, "text": {"field": "aandeel", "type": "quantitative", "format": ".0%"}}},
          {"data": {"name": "sector"}, "transform": [{"filter": "datum.regio == 'Nederland' && datum.ring == 'binnen'"}],
           "mark": {"type": "text", "radius": 31, "fill": "white", "opacity": 0.85, "fontSize": 12},
           "encoding": {"x": {"field": "regio", "type": "nominal", "scale": {"type": "band", "domain": ["Amsterdam e.o.", "Nederland"], "range": [-17, 399], "paddingInner": 0, "paddingOuter": 0}, "axis": null},
             "theta": {"field": "aandeel", "type": "quantitative", "stack": true}, "order": {"field": "volgorde", "type": "ordinal"}, "text": {"field": "aandeel", "type": "quantitative", "format": ".0%"}}},
          {"data": {"values": [{"regio": "Amsterdam e.o."}]}, "mark": {"type": "text", "fontSize": 12, "color": "#333", "theta": 2.21, "radius": 117},
           "encoding": {"x": {"field": "regio", "type": "nominal", "scale": {"type": "band", "domain": ["Amsterdam e.o.", "Nederland"], "range": [-17, 399], "paddingInner": 0, "paddingOuter": 0}, "axis": null}, "text": {"field": "regio"}}},
          {"data": {"values": [{"regio": "Nederland"}]}, "mark": {"type": "text", "fontSize": 12, "color": "#333", "theta": 2.295, "radius": 105},
           "encoding": {"x": {"field": "regio", "type": "nominal", "scale": {"type": "band", "domain": ["Amsterdam e.o.", "Nederland"], "range": [-17, 399], "paddingInner": 0, "paddingOuter": 0}, "axis": null}, "text": {"field": "regio"}}}
        ]
      },
      {"width": 55, "height": 150, "data": {"values": [{}]}, "mark": {"type": "text"}, "encoding": {"text": {"value": ""}}},
      {
        "width": 413, "height": 150,
        "title": {"text": "Aanbod naar grootteklasse", "subtitle": "x 1.000 m² (≥500 m² v.v.o.)"},
        "layer": [
          {"data": {"name": "grootte"}, "mark": {"type": "area", "opacity": 1},
           "encoding": {
             "x": {"field": "jaar", "type": "ordinal", "scale": {"type": "point", "range": [35, 412], "padding": 0},
                   "axis": {"labelAngle": 0, "labelPadding": 4, "labelBaseline": "top", "labelLineHeight": 12,
                            "labelExpr": "datum.value == '2012' ? ['2012', '(medio)'] : datum.label",
                            "labelOffset": {"condition": [{"test": "datum.value == '2005'", "value": 12}, {"test": "datum.value == '2006'", "value": 11}, {"test": "datum.value == '2007'", "value": 4}, {"test": "datum.value == '2008'", "value": 2}, {"test": "datum.value == '2009'", "value": 2}, {"test": "datum.value == '2010'", "value": 1}, {"test": "datum.value == '2011'", "value": -1}, {"test": "datum.value == '2012'", "value": -12}], "value": 0},
                            "title": null}},
             "y": {"field": "m2", "type": "quantitative", "stack": "zero", "scale": {"domain": [0, 1500], "nice": false},
                   "axis": {"values": [0, 300, 600, 900, 1200, 1500], "grid": true, "labelAlign": "right", "labelPadding": -29, "labelBaseline": "top", "labelOffset": 2, "labelExpr": "replace(format(datum.value, ','), ',', '.')", "title": null}},
             "color": {"field": "klasse", "type": "nominal", "scale": {"domain": ["500-1.000", "1.000-2.500", "2.500-5.000", "5.000-10.000", ">10.000"], "range": ["#e3002c", "#15973c", "#c6d974", "#0b4f7e", "#7ab4e0"]},
                       "legend": {"orient": "none", "legendX": 0, "legendY": 184, "direction": "horizontal", "title": null, "symbolType": "square", "symbolSize": 144, "symbolOpacity": 1, "labelOffset": 6, "columnPadding": 11}},
             "order": {"field": "volgorde", "type": "ordinal"}
           }},
          {"data": {"values": [{}]}, "mark": {"type": "rule", "color": "#9a9a9a"}, "encoding": {"y": {"datum": 1500, "type": "quantitative", "scale": {"domain": [0, 1500], "nice": false}, "axis": {"values": [0, 300, 600, 900, 1200, 1500], "grid": true, "labelAlign": "right", "labelPadding": -29, "labelBaseline": "top", "labelOffset": 2, "labelExpr": "replace(format(datum.value, ','), ',', '.')", "title": null}}}},
          {"data": {"values": [{}]}, "mark": {"type": "rule", "color": "#9a9a9a"}, "encoding": {"y": {"datum": 0, "type": "quantitative", "scale": {"domain": [0, 1500], "nice": false}, "axis": {"values": [0, 300, 600, 900, 1200, 1500], "grid": true, "labelAlign": "right", "labelPadding": -29, "labelBaseline": "top", "labelOffset": 2, "labelExpr": "replace(format(datum.value, ','), ',', '.')", "title": null}}}},
          {"data": {"values": [{}]}, "mark": {"type": "rule", "color": "#9a9a9a"}, "encoding": {"y": {"datum": -540, "type": "quantitative", "scale": {"domain": [0, 1500], "nice": false}, "axis": {"values": [0, 300, 600, 900, 1200, 1500], "grid": true, "labelAlign": "right", "labelPadding": -29, "labelBaseline": "top", "labelOffset": 2, "labelExpr": "replace(format(datum.value, ','), ',', '.')", "title": null}}}}
        ]
      }
    ]
  },
  {
    "bounds": "flush", "spacing": 0,
    "hconcat": [
      {"width": 944, "height": 12, "view": {"fill": "white"}, "data": {"values": [{}]}, "mark": {"type": "text"}, "encoding": {"text": {"value": ""}}},
      {"width": 12, "height": 12, "data": {"values": [{"pagina": "8"}]}, "mark": {"type": "text", "fontSize": 12, "color": "#333", "baseline": "middle"}, "encoding": {"text": {"field": "pagina"}}}
    ]
  }
]
}
